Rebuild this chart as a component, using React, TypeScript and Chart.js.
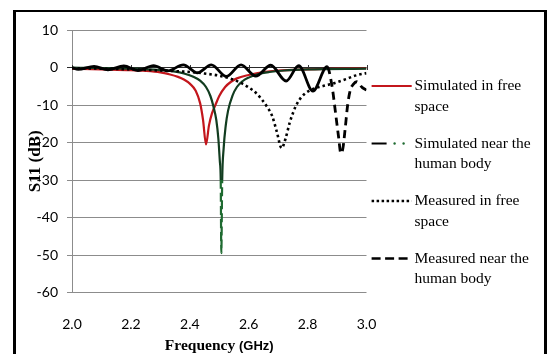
import React, { useEffect, useRef } from 'react';
import { Chart, registerables } from 'chart.js';
Chart.register(...registerables);

// ---- data ----
const xTicks = [2.0, 2.2, 2.4, 2.6, 2.8, 3.0];
const xTickLabels = ['2.0', '2.2', '2.4', '2.6', '2.8', '3.0'];
const xTitleParts = ['Frequency ', '(GHz)'];
const yTitle = 'S11 (dB)';

const seriesLabels = [
  'Simulated in free space',
  'Simulated near the human body',
  'Measured in free space',
  'Measured near the human body',
];
const legendLines = [
  ['Simulated in free', 'space'],
  ['Simulated near the', 'human body'],
  ['Measured in free', 'space'],
  ['Measured near the', 'human body'],
];

const simFreeX = [2.0, 2.1, 2.2, 2.25, 2.3, 2.33, 2.36, 2.38, 2.40, 2.42, 2.435, 2.445, 2.455, 2.465, 2.475, 2.487, 2.5, 2.52, 2.54, 2.56, 2.6, 2.65, 2.7, 2.8, 2.9, 3.0];
const simFreeY = [-0.3, -0.5, -0.7, -0.9, -1.3, -1.8, -2.5, -3.2, -4.3, -6.2, -9.5, -14, -20.5, -15.5, -12.3, -10, -7.6, -5.2, -3.8, -2.9, -2.0, -1.2, -0.8, -0.5, -0.3, -0.2];

const simBodyX = [2.0, 2.2, 2.3, 2.35, 2.38, 2.41, 2.435, 2.455, 2.47, 2.48, 2.49, 2.497, 2.502, 2.505, 2.507, 2.51, 2.515, 2.522, 2.53, 2.545, 2.56, 2.58, 2.6, 2.63, 2.67, 2.72, 2.8, 3.0];
const simBodyY = [0, -0.3, -0.7, -1.1, -1.6, -2.4, -3.5, -5.2, -7.6, -10.3, -14, -19, -25, -30, -49.5, -30, -21.5, -15.5, -11.5, -7.5, -5.2, -3.6, -2.7, -1.8, -1.2, -0.8, -0.5, -0.3];

const measFreeX = [2.0, 2.1, 2.2, 2.3, 2.4, 2.45, 2.5, 2.55, 2.6, 2.63, 2.66, 2.68, 2.695, 2.712, 2.725, 2.74, 2.76, 2.78, 2.81, 2.85, 2.885, 2.93, 2.965, 3.0];
const measFreeY = [-0.2, -0.3, -0.5, -0.8, -1.2, -1.6, -2.2, -3.3, -5.3, -7.2, -10.2, -13, -17, -21.5, -19, -14.5, -10.3, -7.8, -6, -5, -4.3, -3.1, -2.1, -1.5];

const measBodyX = [2.0, 2.021, 2.075, 2.122, 2.176, 2.224, 2.277, 2.325, 2.378, 2.426, 2.473, 2.524, 2.574, 2.624, 2.675, 2.727, 2.77, 2.818, 2.866, 2.883, 2.895, 2.905, 2.913, 2.92, 2.928, 2.936, 2.945, 2.955, 2.967, 2.985, 3.0];
const measBodyY = [0, -0.5, 0.3, -0.6, 0.4, -0.8, 0.5, -0.9, 0.7, -1.4, 0.7, -2.4, 0.7, -2.3, 0.6, -3.6, 0.5, -6.3, 0.2, -5, -12.2, -18.4, -22.9, -21.5, -16, -10, -6, -4.5, -3.8, -5.3, -6];

const pts = (xs: number[], ys: number[]) => xs.map((x, i) => ({ x, y: ys[i] }));

const RED = '#c3161c';
const GREEN = '#123d20';
const GREEN_DOT = '#1e6a30';

const legendPlugin = {
  id: 'sideLegend',
  afterDraw(chart: any) {
    const ctx = chart.ctx;
    const ds = chart.data.datasets;
    const x0 = 371.6, x1 = 411.7, tx = 414.5;
    ctx.save();
    ctx.font = '15.5px "Liberation Serif", "Times New Roman", serif';
    ctx.textBaseline = 'middle';
    ctx.textAlign = 'left';
    legendLines.forEach((lines, i) => {
      const y = 86 + i * 57.5;
      ctx.lineCap = 'butt';
      if (i === 1) {
        ctx.setLineDash([]);
        ctx.strokeStyle = '#000';
        ctx.lineWidth = 2;
        ctx.beginPath(); ctx.moveTo(x0, y); ctx.lineTo(x0 + 15, y); ctx.stroke();
        ctx.fillStyle = GREEN_DOT;
        ctx.beginPath(); ctx.arc(x0 + 23, y, 1.2, 0, Math.PI * 2); ctx.fill();
        ctx.beginPath(); ctx.arc(x0 + 32, y, 1.2, 0, Math.PI * 2); ctx.fill();
      } else {
        const d = ds[i];
        ctx.strokeStyle = d.borderColor;
        ctx.lineWidth = i === 0 ? 2 : 2.5;
        ctx.setLineDash(i === 2 ? [2.5, 2.5] : i === 3 ? [9, 4.5] : []);
        ctx.beginPath(); ctx.moveTo(x0, y); ctx.lineTo(x1, y); ctx.stroke();
      }
      ctx.setLineDash([]);
      ctx.fillStyle = '#000';
      lines.forEach((t, k) => ctx.fillText(t, tx, y + k * 20.7));
    });
    ctx.restore();
  },
};

const axisMarks = {
  id: 'axisMarks',
  beforeDatasetsDraw(chart: any) {
    const ctx = chart.ctx;
    const xs = chart.scales.x, ys = chart.scales.y;
    const y0 = ys.getPixelForValue(0);
    ctx.save();
    ctx.strokeStyle = '#333';
    ctx.lineWidth = 1;
    xTicks.forEach((v) => {
      const px = Math.round(xs.getPixelForValue(v)) + 0.5;
      ctx.beginPath(); ctx.moveTo(px, y0 - 2.5); ctx.lineTo(px, y0 + 2.5); ctx.stroke();
    });
    ctx.restore();
  },
  afterDraw(chart: any) {
    // x-axis title in two fonts (serif word, sans unit)
    const ctx = chart.ctx;
    const area = chart.chartArea;
    const f1 = 'bold 15.5px "Liberation Serif", serif';
    const f2 = 'bold 13px "Liberation Sans", sans-serif';
    ctx.save();
    ctx.font = f1; const w1 = ctx.measureText(xTitleParts[0]).width;
    ctx.font = f2; const w2 = ctx.measureText(xTitleParts[1]).width;
    const cx = (area.left + area.right) / 2;
    let x = cx - (w1 + w2) / 2;
    const y = 345;
    ctx.fillStyle = '#000';
    ctx.textBaseline = 'alphabetic';
    ctx.textAlign = 'left';
    ctx.font = f1; ctx.fillText(xTitleParts[0], x, y + 5);
    ctx.font = f2; ctx.fillText(xTitleParts[1], x + w1, y + 5);
    ctx.restore();
  },
};

export default function App() {
  const ref = useRef<HTMLCanvasElement>(null);
  useEffect(() => {
    if (!ref.current) return;
    const chart = new Chart(ref.current, {
      type: 'line',
      data: {
        datasets: [
          {
            label: seriesLabels[0], data: pts(simFreeX, simFreeY), borderColor: RED, borderWidth: 2.2,
            pointRadius: 0, cubicInterpolationMode: 'monotone', order: 3,
          },
          {
            label: seriesLabels[1], data: pts(simBodyX, simBodyY), borderColor: GREEN, borderWidth: 2.2,
            pointRadius: 0, cubicInterpolationMode: 'monotone', order: 2,
            segment: {
              borderDash: (c: any) => (c.p0.parsed.y < -28 && c.p1.parsed.y < -28 ? [9, 4] : undefined),
              borderColor: (c: any) => (c.p0.parsed.y < -28 && c.p1.parsed.y < -28 ? GREEN_DOT : undefined),
            },
          },
          {
            label: seriesLabels[2], data: pts(measFreeX, measFreeY), borderColor: '#000', borderWidth: 2.6,
            borderDash: [2.5, 3], pointRadius: 0, cubicInterpolationMode: 'monotone', order: 1,
          },
          {
            label: seriesLabels[3], data: pts(measBodyX, measBodyY), borderColor: '#000', borderWidth: 2.8,
            pointRadius: 0, cubicInterpolationMode: 'monotone', order: 0,
            segment: {
              borderDash: (c: any) => (c.p0.parsed.x >= 2.866 ? [8, 5] : undefined),
            },
          },
        ] as any,
      },
      options: {
        animation: false,
        responsive: false,
        devicePixelRatio: 1,
        layout: { padding: { left: 0, top: 30, right: 180.5, bottom: 0 } },
        plugins: { legend: { display: false }, tooltip: { enabled: false } },
        scales: {
          x: {
            type: 'linear', min: 2.0, max: 3.0,
            afterBuildTicks: (s: any) => { s.ticks = xTicks.map((v) => ({ value: v })); },
            afterFit: (s: any) => { s.height = 61.5; },
            grid: { display: false },
            border: { display: false },
            ticks: {
              callback: (_v: any, i: number) => xTickLabels[i],
              padding: 16, color: '#000', maxRotation: 0,
              font: { family: 'Lato, "Liberation Sans", sans-serif', size: 14 },
            },
            title: { display: false },
          },
          y: {
            type: 'linear', min: -60, max: 10,
            afterFit: (s: any) => { s.width = 72; },
            ticks: {
              stepSize: 10, padding: 9, color: '#000',
              font: { family: 'Lato, "Liberation Sans", sans-serif', size: 14 },
            },
            grid: {
              color: (c: any) => (c.tick && c.tick.value === 0 ? '#2a2a2a' : '#8c8c8c'),
              lineWidth: 1, tickLength: 5,
            },
            border: { display: true, color: '#8c8c8c', width: 1 },
            title: {
              display: true, text: yTitle, color: '#000',
              font: { family: '"Liberation Serif", serif', size: 17, weight: 'bold' },
              padding: { top: 25, bottom: 0 },
            },
          },
        },
      } as any,
      plugins: [axisMarks, legendPlugin],
    });
    return () => chart.destroy();
  }, []);

  return (
    <div style={{ position: 'fixed', left: 0, top: 0, width: 547, height: 354, background: '#fff', overflow: 'hidden' }}>
      <div style={{
        position: 'absolute', left: 13, top: 10, width: 534, height: 400,
        borderLeft: '3px solid #000', borderTop: '2px solid #000', borderRight: '3px solid #000', boxSizing: 'border-box',
      }} />
      <canvas ref={ref} width={547} height={354} style={{ position: 'absolute', left: 0, top: 0, width: 547, height: 354 }} />
    </div>
  );
}
